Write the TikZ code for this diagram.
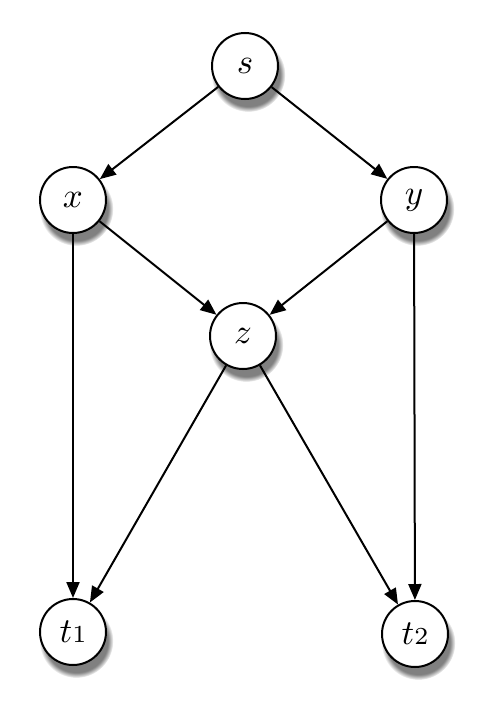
\documentclass[tikz,border=0pt]{standalone}
\usetikzlibrary{arrows.meta,shadows}
\newcommand{\vlabel}[1]{\scalebox{3.5}{$#1$}}
\tikzset{
  vertex/.style={circle,draw,line width=2,fill=white,minimum size=66,inner sep=0,
    circular drop shadow={shadow xshift=3pt,shadow yshift=-8pt,shadow scale=1.12}},
  edge/.style={line width=2,-{Triangle[length=16,width=13]}},
}
\begin{document}
\begin{tikzpicture}[x=1pt,y=1pt,yscale=-1,xscale=1]
  \useasboundingbox (0,0) rectangle (490,717);
  \node[vertex] (s)  at (245,66)  {\vlabel{s}};
  \node[vertex] (x)  at (73,200)  {\vlabel{x}};
  \node[vertex] (y)  at (414,200) {\vlabel{y}};
  \node[vertex] (z)  at (243,336) {\vlabel{z}};
  \node[vertex] (t1) at (73,632)  {\vlabel{t\mathrm{\scriptstyle 1}}};
  \node[vertex] (t2) at (415,634) {\vlabel{t\mathrm{\scriptstyle 2}}};
  \draw[edge] (s) -- (x);
  \draw[edge] (s) -- (y);
  \draw[edge] (x) -- (z);
  \draw[edge] (y) -- (z);
  \draw[edge] (x) -- (t1);
  \draw[edge] (y) -- (t2);
  \draw[edge] (z) -- (t1);
  \draw[edge] (z) -- (t2);
\end{tikzpicture}
\end{document}
